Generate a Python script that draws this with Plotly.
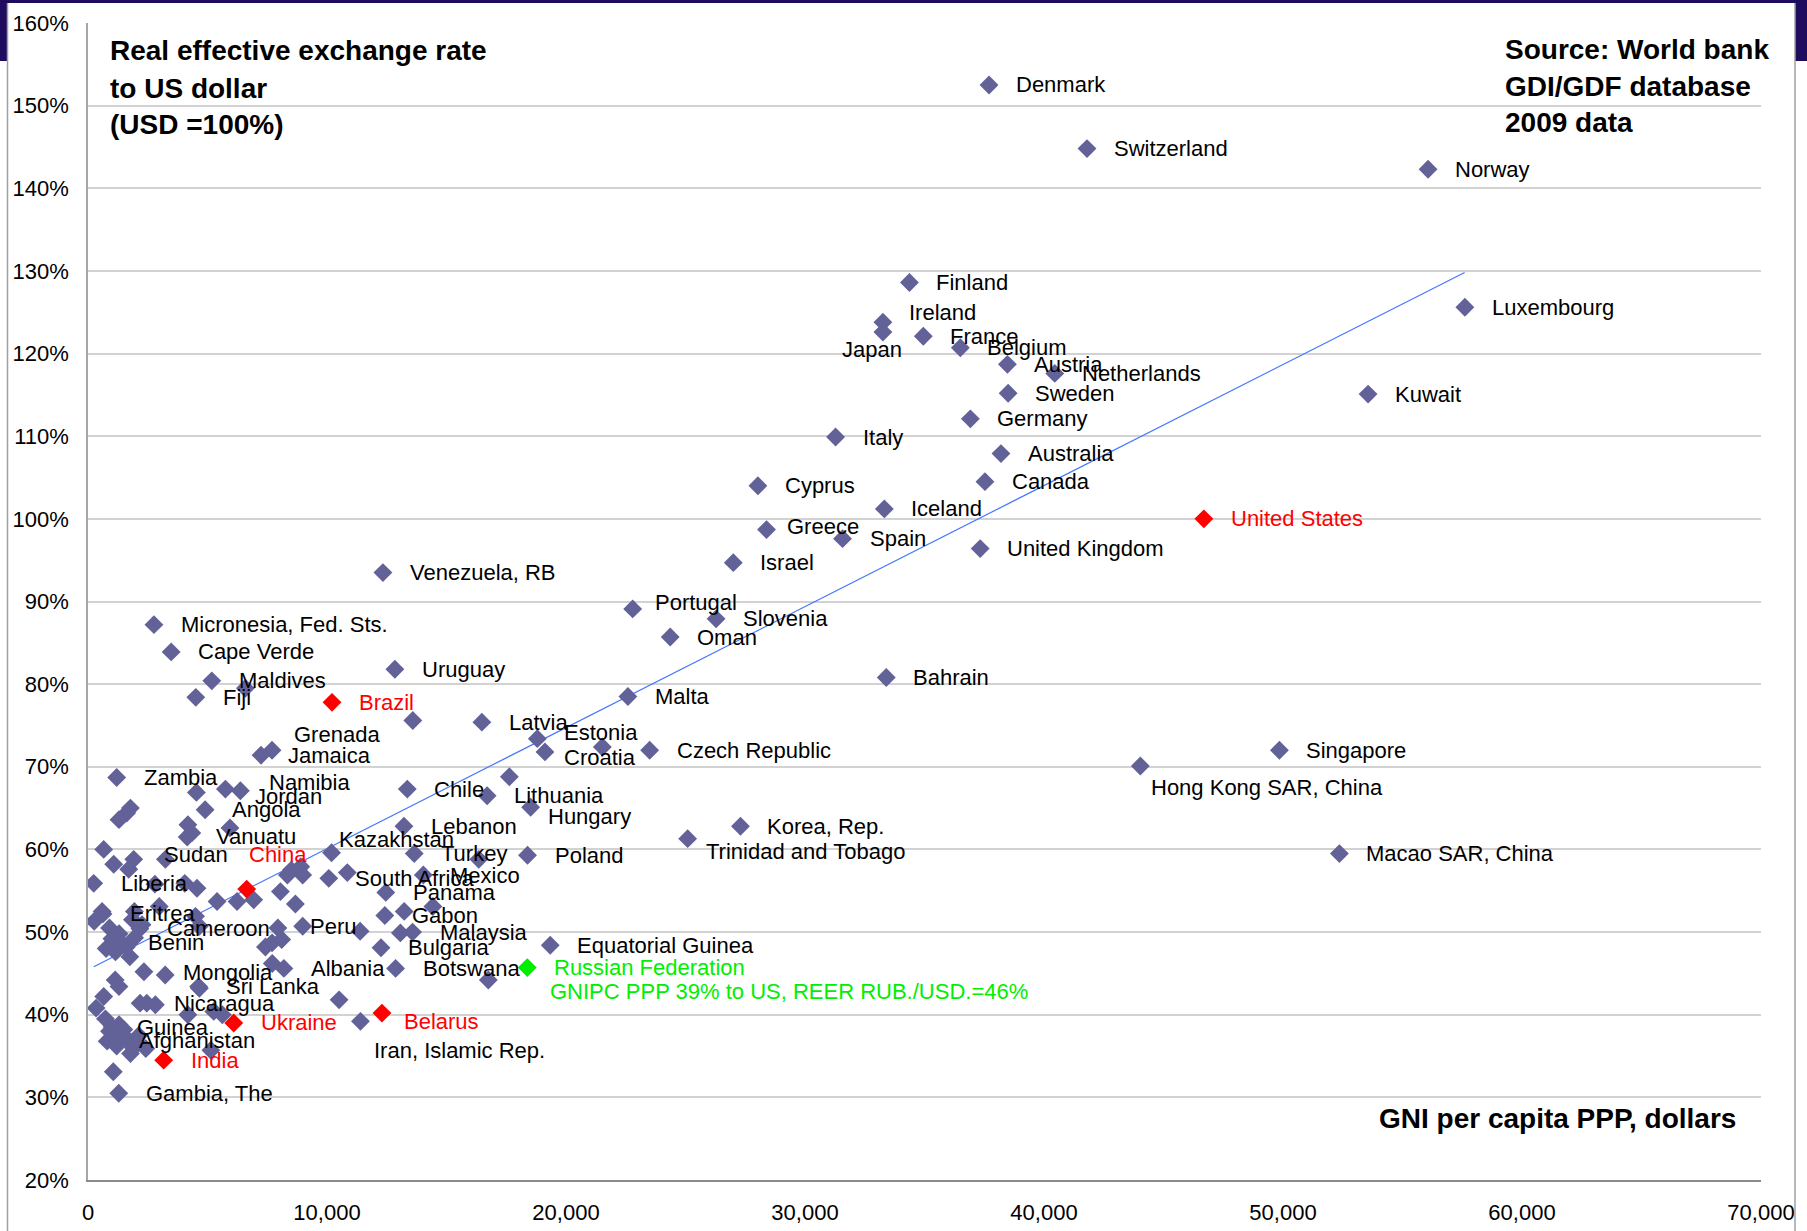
import plotly.graph_objects as go

# ---------------- data ----------------
countries = [
    "Denmark", "Switzerland", "Norway", "Finland", "Ireland", "Japan", "France", "Belgium",
    "Austria", "Netherlands", "Sweden", "Germany", "Italy", "Australia", "Canada", "Cyprus",
    "Iceland", "Greece", "Spain", "United Kingdom", "United States", "Israel", "Venezuela, RB",
    "Portugal", "Slovenia", "Oman", "Micronesia, Fed. Sts.", "Cape Verde", "Uruguay", "Bahrain",
    "Maldives", "Fiji", "Brazil", "Malta", "Latvia", "Estonia", "Croatia", "Czech Republic",
    "Grenada", "Jamaica", "Zambia", "Namibia", "Jordan", "Angola", "Vanuatu", "Sudan", "China",
    "Liberia", "Kazakhstan", "Turkey", "Lebanon", "Chile", "Lithuania", "Hungary", "Poland",
    "South Africa", "Mexico", "Panama", "Gabon", "Malaysia", "Bulgaria", "Peru", "Albania",
    "Botswana", "Mongolia", "Sri Lanka", "Nicaragua", "Guinea", "Afghanistan", "India", "Ukraine",
    "Gambia, The", "Cameroon", "Benin", "Eritrea", "Iran, Islamic Rep.", "Belarus",
    "Russian Federation", "Equatorial Guinea", "Korea, Rep.", "Trinidad and Tobago",
    "Hong Kong SAR, China", "Singapore", "Macao SAR, China", "Kuwait", "Luxembourg",
]
gni = [
    37700, 41800, 56070, 34370, 33260, 33260, 34950, 36500,
    38470, 40450, 38500, 36920, 31280, 38200, 37530, 28030,
    33320, 28390, 31570, 37330, 46690, 27000, 12340,
    22790, 26280, 24360, 2760, 3480, 12840, 33400,
    5180, 4510, 10210, 22590, 16480, 18800, 19120, 23500,
    7700, 7240, 1200, 6376, 5749, 4900, 5940, 1913, 6640,
    240, 10190, 13650, 13220, 13360, 16700, 18520, 18390,
    10850, 14030, 12460, 12420, 13580, 12260, 8983, 8196,
    12870, 3230, 4628, 2460, 1012, 1075, 3167, 6098,
    1287, 2170, 1398, 627, 11400, 12300,
    18380, 19340, 27300, 25090,
    44030, 49850, 52360, 53560, 57610,
]
reer = [
    152.5, 144.8, 142.3, 128.6, 123.8, 122.6, 122.1, 120.7,
    118.7, 117.6, 115.2, 112.1, 109.9, 107.9, 104.5, 104.0,
    101.2, 98.7, 97.6, 96.4, 100.0, 94.7, 93.5,
    89.1, 87.9, 85.7, 87.2, 83.9, 81.8, 80.8,
    80.4, 78.4, 77.8, 78.5, 75.4, 73.4, 71.8, 72.0,
    72.0, 71.4, 68.7, 67.1, 67.3, 64.8, 62.6, 58.8, 55.2,
    55.9, 59.6, 59.5, 62.8, 67.3, 66.5, 65.1, 59.3,
    57.2, 56.9, 54.8, 52.0, 50.0, 48.1, 50.7, 45.6,
    45.6, 44.8, 43.4, 41.4, 38.5, 36.9, 34.5, 39.0,
    30.5, 50.4, 48.7, 52.2, 39.2, 40.2,
    45.7, 48.4, 62.8, 61.3,
    70.1, 72.0, 59.5, 115.1, 125.6,
]

other_gni = [
    13590, 17630, 21520, 16350, 10075, 13230, 14430, 13070, 11385, 10506, 16750, 6585,
    1774, 1619, 1297, 4180, 4343, 4150, 4535,
    657, 1076, 1704, 3238,
    8506, 8903, 8983, 8343,
    2800, 4050, 4560,
    5401, 6237, 6933, 8050, 8678,
    590, 260, 900, 1940, 2260, 1860, 2980, 4500, 4660,
    1000, 1300, 1600, 1950, 1150, 1750, 760,
    2340, 1138, 1297, 657, 339, 4660, 7710,
    2180, 2820, 4180, 5623, 5262,
    730, 900, 1100, 1300, 1500, 800, 1200, 1600, 1900, 2125, 1778, 1941, 2418, 5142, 1059,
    7945, 7703, 8104, 7424,
]
other_reer = [
    75.6, 68.8, 72.4, 58.8, 56.5, 52.5, 53.1, 49.9, 50.1, 41.8, 44.2, 79.5,
    65.0, 64.4, 63.6, 63.0, 62.0, 61.5, 66.9,
    60.0, 58.2, 57.6, 58.8,
    57.5, 57.9, 56.9, 56.9,
    55.8, 55.9, 55.3,
    53.7, 53.7, 53.9, 54.9, 53.4,
    52.5, 51.3, 50.5, 52.5, 50.9, 51.5, 53.1, 51.9, 50.7,
    49.2, 49.8, 48.2, 49.3, 47.6, 47.0, 48.0,
    45.2, 44.2, 43.4, 42.2, 40.8, 43.2, 46.2,
    41.4, 41.2, 40.0, 40.0, 40.4,
    39.5, 38.0, 37.5, 38.8, 38.2, 36.8, 36.2, 37.2, 36.0, 37.5, 35.3, 36.3, 35.9, 35.7, 33.1,
    50.5, 48.7, 49.1, 48.2,
]

red_countries = ["United States", "Brazil", "China", "India", "Ukraine", "Belarus"]
green_countries = ["Russian Federation"]
russia_note = "GNIPC PPP 39% to US, REER RUB./USD.=46%"

trend_gni = [240, 57600]
trend_reer = [45.8, 129.8]

y_ticks = list(range(20, 161, 10))
y_tick_labels = ["%d%%" % v for v in y_ticks]
x_ticks = list(range(0, 70001, 10000))
x_tick_labels = ["{:,}".format(v) for v in x_ticks]

title_lines = ["Real effective exchange rate", "to US dollar", "(USD =100%)"]
source_lines = ["Source: World bank", "GDI/GDF database", "2009 data"]
x_title = "GNI per capita PPP, dollars"

# ---------------- layout constants ----------------
W, H = 1807, 1231
PL, PR, PT, PB = 88, 1761, 23, 1180
FONT = "Liberation Sans, Arial, Helvetica, sans-serif"
NAVY = "#1f0c5e"
MARK = "#626299"
RED = "#ff0000"
GREEN = "#00ee00"
MSIZE = 14.5


def px_x(px):
    return (px - PL) / (PR - PL)


def px_y(py):
    return (PB - py) / (PB - PT)


# label offsets (pixels): dx from marker to text start, dy upwards
DEFAULT_OFF = (25, 0)
label_off = {
    "Ireland": (24, 10), "Greece": (18, 3), "Portugal": (20, 6), "Estonia": (25, 6),
    "Croatia": (17, -6), "Grenada": (20, 16), "Namibia": (27, 8), "Jordan": (28, -7),
    "Vanuatu": (-16, -9), "Sudan": (28, 5), "China": (0, 35), "Kazakhstan": (5, 13),
    "Hungary": (15, -9), "South Africa": (6, -6), "Peru": (5, 0), "Mongolia": (16, 3),
    "Iran, Islamic Rep.": (12, -29), "Belarus": (20, -8), "Trinidad and Tobago": (16, -13),
    "Hong Kong SAR, China": (9, -22), "Guinea": (23, 0), "Afghanistan": (23, 0),
}
right_anchored = {"Japan": (21, -17)}

fig = go.Figure()

# trend line
fig.add_trace(go.Scatter(x=trend_gni, y=trend_reer, mode="lines",
                         line=dict(color="#4477ff", width=1.2), hoverinfo="skip"))

normal_x = list(other_gni) + [g for c, g in zip(countries, gni)
                              if c not in red_countries and c not in green_countries]
normal_y = list(other_reer) + [r for c, r in zip(countries, reer)
                               if c not in red_countries and c not in green_countries]
fig.add_trace(go.Scatter(x=normal_x, y=normal_y, mode="markers",
                         marker=dict(symbol="diamond", size=MSIZE, color=MARK, line=dict(width=0))))
fig.add_trace(go.Scatter(
    x=[g for c, g in zip(countries, gni) if c in red_countries],
    y=[r for c, r in zip(countries, reer) if c in red_countries],
    mode="markers", marker=dict(symbol="diamond", size=MSIZE, color=RED, line=dict(width=0))))
fig.add_trace(go.Scatter(
    x=[g for c, g in zip(countries, gni) if c in green_countries],
    y=[r for c, r in zip(countries, reer) if c in green_countries],
    mode="markers", marker=dict(symbol="diamond", size=MSIZE, color=GREEN, line=dict(width=0))))

annotations = []
for c, g, r in zip(countries, gni, reer):
    color = RED if c in red_countries else (GREEN if c in green_countries else "#000000")
    if c in right_anchored:
        dx, dy = right_anchored[c]
        anchor = "right"
    else:
        dx, dy = label_off.get(c, DEFAULT_OFF)
        anchor = "left"
    annotations.append(dict(x=g, y=r, xref="x", yref="y", text=c, showarrow=False,
                            xanchor=anchor, yanchor="middle", xshift=dx, yshift=dy,
                            font=dict(family=FONT, size=22, color=color)))
    if c in green_countries:
        annotations.append(dict(x=g, y=r, xref="x", yref="y", text=russia_note, showarrow=False,
                                xanchor="left", yanchor="middle", xshift=21, yshift=-24,
                                font=dict(family=FONT, size=22, color=color)))

for i, t in enumerate(title_lines):
    annotations.append(dict(x=px_x(108), y=px_y(51 + 37 * i), xref="paper", yref="paper",
                            text="<b>%s</b>" % t, showarrow=False, xanchor="left", yanchor="middle",
                            font=dict(family=FONT, size=28, color="#000000")))
for i, t in enumerate(source_lines):
    annotations.append(dict(x=px_x(1503), y=px_y(49 + 37 * i), xref="paper", yref="paper",
                            text="<b>%s</b>" % t, showarrow=False, xanchor="left", yanchor="middle",
                            font=dict(family=FONT, size=28, color="#000000")))
annotations.append(dict(x=px_x(1738), y=px_y(1118), xref="paper", yref="paper",
                        text="<b>%s</b>" % x_title, showarrow=False, xanchor="right", yanchor="middle",
                        font=dict(family=FONT, size=28, color="#000000")))

shapes = [
    dict(type="rect", xref="paper", yref="paper", x0=px_x(0), x1=px_x(W), y0=px_y(3), y1=px_y(0),
         fillcolor=NAVY, line=dict(width=0), layer="above"),
    dict(type="rect", xref="paper", yref="paper", x0=px_x(0), x1=px_x(7), y0=px_y(61), y1=px_y(0),
         fillcolor=NAVY, line=dict(width=0), layer="above"),
    dict(type="rect", xref="paper", yref="paper", x0=px_x(1795), x1=px_x(W), y0=px_y(61), y1=px_y(0),
         fillcolor=NAVY, line=dict(width=0), layer="above"),
    dict(type="line", xref="paper", yref="paper", x0=px_x(7.5), x1=px_x(7.5), y0=px_y(H), y1=px_y(3),
         line=dict(color="#a0a0a0", width=1.5)),
    dict(type="line", xref="paper", yref="paper", x0=px_x(1795), x1=px_x(1795), y0=px_y(H), y1=px_y(3),
         line=dict(color="#a0a0a0", width=1.5)),
]

fig.update_layout(
    template="none",
    width=W, height=H, autosize=False,
    margin=dict(l=PL, r=W - PR, t=PT, b=H - PB, pad=0),
    paper_bgcolor="#ffffff", plot_bgcolor="#ffffff",
    showlegend=False,
    font=dict(family=FONT, size=22, color="#000000"),
    annotations=annotations, shapes=shapes,
    xaxis=dict(range=[0, 70000], tickmode="array", tickvals=x_ticks, ticktext=x_tick_labels,
               showgrid=False, zeroline=False, showline=True, linecolor="#8a8a8a", linewidth=2,
               ticks="", ticklabelstandoff=12, automargin=False,
               tickfont=dict(family=FONT, size=22, color="#000000")),
    yaxis=dict(range=[20, 160], tickmode="array", tickvals=y_ticks, ticktext=y_tick_labels,
               showgrid=True, gridcolor="#d2d2d2", gridwidth=1.5, zeroline=False, showline=True,
               linecolor="#a6a6a6", linewidth=1.5, ticks="", ticklabelstandoff=13, automargin=False,
               tickfont=dict(family=FONT, size=22, color="#000000")),
)

fig.write_html("out.html", config={"displayModeBar": False},
               post_script="document.body.style.margin='0';document.body.style.overflow='hidden';")
